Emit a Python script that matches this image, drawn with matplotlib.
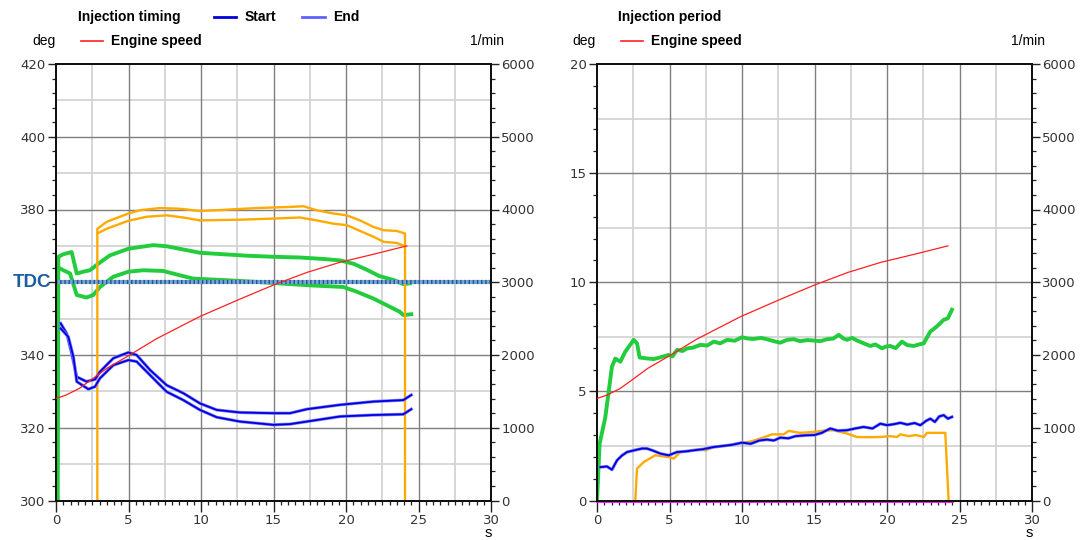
import matplotlib
matplotlib.use("Agg")
import matplotlib.pyplot as plt
from matplotlib.lines import Line2D
from matplotlib.ticker import MultipleLocator, FixedLocator
import matplotlib.patheffects as pe

# ---------------- data ----------------
# engine speed (1/min), shared by both panels
speed_t = [0.0, 0.7, 1.6, 2.5, 3.5, 5.0, 6.9, 9.9, 12.7, 15.0, 17.3, 19.6, 21.9, 24.2]
speed_rpm = [1402, 1450, 1540, 1670, 1816, 1990, 2220, 2527, 2770, 2962, 3135, 3275, 3385, 3500]

# injection timing, first pilot pair (green)
green_hi_t = [0.12, 0.16, 0.5, 1.08, 1.43, 1.89, 2.34, 2.92, 3.72, 4.99, 5.8, 6.71, 7.63, 8.78, 9.93,
              11.54, 13.15, 14.99, 16.83, 18.44, 19.59, 20.5, 21.4, 22.3, 23.3, 23.95, 24.4]
green_hi_deg = [300, 367.0, 367.7, 368.3, 362.4, 362.9, 363.3, 365.1, 367.4, 369.2, 369.7, 370.2, 369.9,
                369.0, 368.1, 367.7, 367.3, 367.0, 366.8, 366.4, 366.0, 365.1, 363.5, 361.7, 360.6,
                359.5, 359.7]
green_lo_t = [0.16, 0.97, 1.43, 2.1, 2.57, 3.03, 3.95, 4.99, 6.02, 7.4, 8.55, 9.47, 11.54, 13.84,
              16.14, 17.75, 19.82, 20.74, 21.9, 22.8, 23.7, 23.95, 24.5]
green_lo_deg = [364.0, 362.4, 356.5, 355.8, 356.5, 358.7, 361.5, 362.9, 363.3, 363.1, 361.9, 361.0,
                360.6, 360.1, 359.5, 359.1, 358.7, 357.4, 355.5, 353.7, 351.9, 351.0, 351.2]

# injection timing, post injection pair (orange)
orange_hi_t = [2.85, 2.85, 3.49, 4.99, 5.79, 7.17, 8.55, 9.93, 11.54, 13.84, 16.14, 17.06, 17.98,
               19.13, 20.05, 20.97, 21.9, 22.6, 23.5, 24.07, 24.07]
orange_hi_deg = [300, 374.7, 376.6, 378.9, 379.8, 380.4, 380.2, 379.6, 379.9, 380.4, 380.7, 380.9,
                 379.8, 378.9, 378.4, 377.0, 375.2, 374.3, 374.1, 373.4, 300]
orange_lo_t = [2.85, 3.49, 4.99, 6.25, 7.63, 8.78, 9.93, 12.7, 14.99, 16.83, 17.98, 19.13, 20.05,
               20.97, 21.9, 22.6, 23.5, 24.07]
orange_lo_deg = [373.4, 374.7, 376.9, 378.0, 378.4, 377.8, 377.0, 377.2, 377.5, 377.8, 377.0, 376.1,
                 375.7, 374.1, 372.5, 371.1, 370.8, 369.9]

# injection timing, main injection start / end (blue)
blue_hi_t = [0.32, 0.74, 1.08, 1.43, 2.1, 2.69, 3.03, 3.95, 4.99, 5.56, 6.48, 7.63, 8.78, 9.93, 11.08,
             12.69, 14.99, 16.14, 17.29, 19.59, 21.9, 23.95, 24.5]
blue_hi_deg = [348.7, 345.9, 340.4, 334.0, 332.7, 333.3, 335.4, 339.1, 340.7, 340.0, 335.9, 331.7,
               329.5, 326.7, 324.9, 324.2, 324.0, 324.0, 325.1, 326.3, 327.2, 327.6, 329.0]
blue_lo_t = [0.32, 0.85, 1.2, 1.43, 2.23, 2.69, 3.03, 3.95, 4.99, 5.56, 6.48, 7.63, 8.78, 9.93, 11.08,
             12.69, 14.99, 16.14, 17.29, 19.59, 21.9, 23.95, 24.5]
blue_lo_deg = [347.3, 345.0, 339.5, 332.7, 330.6, 331.3, 333.6, 337.2, 338.6, 338.2, 334.5, 329.9,
               327.6, 324.9, 322.9, 321.7, 320.8, 321.0, 321.7, 323.1, 323.5, 323.7, 325.1]

# injection period (deg)
per_green_t = [0.0, 0.18, 0.57, 1.03, 1.26, 1.61, 1.95, 2.53, 2.76, 2.94, 3.45, 3.91, 4.37, 4.94, 5.2,
               5.52, 5.9, 6.21, 6.6, 7.13, 7.6, 8.05, 8.5, 8.97, 9.5, 10.0, 10.4, 10.8, 11.3, 11.72,
               12.2, 12.64, 13.1, 13.56, 14.0, 14.5, 14.94, 15.4, 15.86, 16.3, 16.67, 17.0, 17.24,
               17.6, 17.93, 18.4, 18.85, 19.2, 19.66, 19.9, 20.23, 20.6, 21.03, 21.4, 21.84, 22.2,
               22.53, 22.99, 23.3, 23.56, 23.91, 24.2, 24.48]
per_green_deg = [0.0, 2.6, 3.8, 6.13, 6.5, 6.36, 6.82, 7.36, 7.2, 6.55, 6.51, 6.48, 6.56, 6.67, 6.6,
                 6.9, 6.85, 6.97, 7.0, 7.13, 7.1, 7.28, 7.2, 7.36, 7.32, 7.48, 7.42, 7.4, 7.45, 7.39,
                 7.3, 7.23, 7.36, 7.39, 7.3, 7.35, 7.33, 7.3, 7.39, 7.42, 7.59, 7.42, 7.36, 7.45,
                 7.33, 7.2, 7.08, 7.15, 6.97, 7.05, 7.08, 6.98, 7.28, 7.12, 7.08, 7.15, 7.2, 7.74,
                 7.9, 8.05, 8.28, 8.35, 8.74]
per_blue_t = [0.23, 0.69, 1.03, 1.38, 1.7, 2.07, 2.76, 3.1, 3.45, 3.8, 4.37, 4.94, 5.52, 6.1, 6.67,
              7.3, 8.05, 8.7, 9.3, 10.0, 10.6, 11.2, 11.72, 12.2, 12.64, 13.2, 13.7, 14.48, 15.0,
              15.5, 16.09, 16.6, 17.24, 17.8, 18.39, 19.0, 19.54, 20.0, 20.5, 20.92, 21.4, 21.9,
              22.3, 22.7, 22.99, 23.3, 23.6, 23.91, 24.2, 24.48]
per_blue_deg = [1.53, 1.56, 1.41, 1.84, 2.05, 2.22, 2.33, 2.38, 2.38, 2.3, 2.15, 2.07, 2.22, 2.25, 2.3,
                2.35, 2.45, 2.5, 2.55, 2.65, 2.6, 2.75, 2.79, 2.75, 2.88, 2.85, 2.95, 2.99, 3.0, 3.1,
                3.3, 3.2, 3.22, 3.3, 3.37, 3.3, 3.52, 3.45, 3.5, 3.56, 3.48, 3.55, 3.45, 3.65, 3.75,
                3.6, 3.85, 3.91, 3.75, 3.83]
per_orange_t = [2.64, 2.76, 3.22, 4.02, 4.94, 5.29, 5.75, 6.3, 6.9, 7.5, 8.05, 8.6, 9.2, 10.0, 10.6,
                11.26, 12.07, 12.87, 13.22, 14.0, 14.94, 15.6, 16.32, 17.24, 17.93, 18.7, 19.54,
                20.2, 20.69, 20.92, 21.5, 22.0, 22.53, 22.76, 23.5, 24.02, 24.25]
per_orange_deg = [0.0, 1.46, 1.76, 2.07, 1.99, 1.92, 2.22, 2.25, 2.33, 2.3, 2.45, 2.5, 2.55, 2.65, 2.7,
                  2.84, 3.03, 3.03, 3.19, 3.1, 3.14, 3.2, 3.22, 3.07, 2.91, 2.9, 2.91, 2.95, 2.91,
                  3.03, 2.95, 3.0, 2.91, 3.1, 3.1, 3.1, 0.0]
per_zero_t = [0.0, 24.5]
per_zero_deg = [0.0, 0.0]

timing_ticks = [300, 320, 340, 360, 380, 400, 420]
timing_labels = ["300", "320", "340", "", "380", "400", "420"]
period_ticks = [0, 5, 10, 15, 20]
speed_ticks = [0, 1000, 2000, 3000, 4000, 5000, 6000]
time_ticks = [0, 5, 10, 15, 20, 25, 30]
TDC_DEG = 360

# ---------------- styling ----------------
GREEN = "#22cc3c"
ORANGE = "#ffaa00"
BLUE = "#0000dd"
BLUE_HALO = "#8080ff"
RED = "#ff2020"
MAJ_GRID = "#7f7f7f"
MIN_GRID = "#d3d3d3"
TICK_COLOR = "#333333"

fig = plt.figure(figsize=(10.81, 5.40), dpi=100)
fig.patch.set_facecolor("white")

rect_l = [56 / 1081, 39.5 / 540, 435 / 1081, 436.5 / 540]
rect_r = [597 / 1081, 39.5 / 540, 435 / 1081, 436.5 / 540]


def style_axes(ax, axr, ymin, ymax, ymaj_grid, ymin_grid, yminor, yticks):
    ax.set_xlim(0, 30)
    ax.set_ylim(ymin, ymax)
    axr.set_ylim(0, 6000)
    for g in [2.5, 7.5, 12.5, 17.5, 22.5, 27.5]:
        ax.axvline(g, color=MIN_GRID, lw=1.3, zorder=0)
    for g in [5, 10, 15, 20, 25]:
        ax.axvline(g, color=MAJ_GRID, lw=1.0, zorder=0.5)
    for g in ymin_grid:
        ax.axhline(g, color=MIN_GRID, lw=1.3, zorder=0)
    for g in ymaj_grid:
        ax.axhline(g, color=MAJ_GRID, lw=1.0, zorder=0.5)
    ax.xaxis.set_major_locator(FixedLocator(time_ticks))
    ax.xaxis.set_minor_locator(MultipleLocator(0.5))
    ax.yaxis.set_major_locator(FixedLocator(yticks))
    ax.yaxis.set_minor_locator(MultipleLocator(yminor))
    axr.yaxis.set_major_locator(FixedLocator(speed_ticks))
    axr.yaxis.set_minor_locator(MultipleLocator(200))
    for a in (ax, axr):
        a.tick_params(which="major", direction="out", length=6, width=1, colors="#222222",
                      labelcolor=TICK_COLOR, labelsize=9.5, pad=1.5)
        a.tick_params(which="minor", direction="out", length=3, width=0.9, colors="#222222")
        for s in a.spines.values():
            s.set_linewidth(1.4)
            s.set_color("#111111")
    ax.tick_params(axis="x", which="major", length=8)


def blue_line(ax, t, v):
    ax.plot(t, v, color=BLUE, lw=1.3, zorder=4, solid_joinstyle="round",
            path_effects=[pe.Stroke(linewidth=2.3, foreground=BLUE_HALO), pe.Normal()])


# ---------------- left panel: injection timing ----------------
ax1 = fig.add_axes(rect_l)
ax1r = ax1.twinx()
style_axes(ax1, ax1r, 300, 420, [320, 340, 380, 400], [310, 330, 350, 370, 390, 410], 4,
           timing_ticks)
ax1.set_yticklabels(timing_labels)

ax1.plot(green_hi_t, green_hi_deg, color=GREEN, lw=2.8, zorder=2, solid_joinstyle="round")
ax1.plot(green_lo_t, green_lo_deg, color=GREEN, lw=2.8, zorder=2, solid_joinstyle="round")
ax1.plot(orange_hi_t, orange_hi_deg, color=ORANGE, lw=1.7, zorder=3)
ax1.plot(orange_lo_t, orange_lo_deg, color=ORANGE, lw=1.7, zorder=3)
blue_line(ax1, blue_hi_t, blue_hi_deg)
blue_line(ax1, blue_lo_t, blue_lo_deg)

# top dead centre reference
ax1.axhline(TDC_DEG, color="#7aa5d3", lw=3.0, zorder=3.5)
ax1.axhline(TDC_DEG, color="#1c5a98", lw=3.0, ls=(0, (0.35, 0.65)), zorder=3.6)
ax1.text(-0.01, TDC_DEG, "TDC", transform=ax1.get_yaxis_transform(), ha="right", va="center",
         fontsize=13.5, fontweight="bold", color="#1b5d9f", family="Liberation Sans")

ax1r.plot(speed_t, speed_rpm, color=RED, lw=0.9, zorder=5)

# ---------------- right panel: injection period ----------------
ax2 = fig.add_axes(rect_r)
ax2r = ax2.twinx()
style_axes(ax2, ax2r, 0, 20, [5, 10, 15], [2.5, 7.5, 12.5, 17.5], 1, period_ticks)

ax2.plot(per_green_t, per_green_deg, color=GREEN, lw=2.8, zorder=2, solid_joinstyle="round")
ax2.plot(per_orange_t, per_orange_deg, color=ORANGE, lw=1.7, zorder=3)
blue_line(ax2, per_blue_t, per_blue_deg)
ax2.plot(per_zero_t, per_zero_deg, color="#ff00ff", lw=2.0, zorder=4, clip_on=False)

ax2r.plot(speed_t, speed_rpm, color=RED, lw=0.9, zorder=5)

# ---------------- headers / legends ----------------
LBL = dict(family="Liberation Sans", fontsize=10, va="center")


def fx(px):
    return px / 1081


def fy(py):
    return 1 - py / 540


def legend_line(x0, x1, y, color, lw=2.0):
    fig.add_artist(Line2D([fx(x0), fx(x1)], [fy(y), fy(y)], color=color, lw=lw,
                          transform=fig.transFigure))


fig.text(fx(78), fy(17), "Injection timing", fontweight="bold", **LBL)
legend_line(214, 236, 17, BLUE, 2.0)
fig.text(fx(245), fy(17), "Start", fontweight="bold", **LBL)
legend_line(302, 325, 17, "#6060ff", 2.0)
fig.text(fx(333), fy(17), "End", fontweight="bold", **LBL)
fig.text(fx(32), fy(41), "deg", **LBL)
legend_line(81, 103, 41, RED, 1.2)
fig.text(fx(111), fy(41), "Engine speed", fontweight="bold", **LBL)
fig.text(fx(470), fy(41), "1/min", **LBL)
fig.text(fx(488), fy(533), "s", ha="center", family="Liberation Sans", fontsize=10.5,
         va="center")

fig.text(fx(618), fy(17), "Injection period", fontweight="bold", **LBL)
fig.text(fx(572), fy(41), "deg", **LBL)
legend_line(621, 643, 41, RED, 1.2)
fig.text(fx(651), fy(41), "Engine speed", fontweight="bold", **LBL)
fig.text(fx(1011), fy(41), "1/min", **LBL)
fig.text(fx(1029), fy(533), "s", ha="center", family="Liberation Sans", fontsize=10.5,
         va="center")

fig.savefig("out.png", dpi=100, facecolor="white")
